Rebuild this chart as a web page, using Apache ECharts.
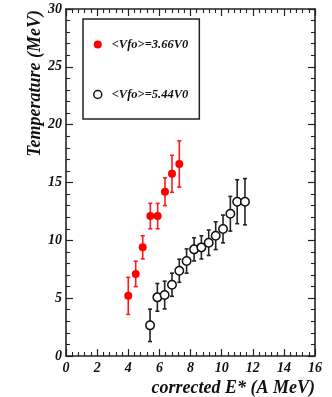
<!DOCTYPE html>
<html><head><meta charset="utf-8">
<script src="https://cdn.jsdelivr.net/npm/echarts@6/dist/echarts.min.js"></script>
<style>html,body{margin:0;padding:0;background:#fff}#c{width:332px;height:397px}</style>
</head><body><div id="c"></div>
<script>
var seriesNames = ['<Vfo>=3.66V0', '<Vfo>=5.44V0'];
var redX = [4.0, 4.48, 4.93, 5.42, 5.89, 6.36, 6.81, 7.28];
var redY = [5.2, 7.1, 9.4, 12.1, 12.1, 14.2, 15.75, 16.6];
var redErr = [1.6, 1.1, 1.0, 1.1, 1.1, 1.2, 1.6, 2.0];
var blackX = [5.40, 5.87, 6.34, 6.81, 7.28, 7.75, 8.23, 8.70, 9.17, 9.62, 10.09, 10.56, 11.0, 11.5];
var blackY = [2.65, 5.07, 5.27, 6.16, 7.37, 8.21, 9.22, 9.39, 9.79, 10.4, 10.98, 12.3, 13.34, 13.34];
var blackErr = [1.4, 1.2, 1.2, 1.0, 1.0, 1.05, 1.0, 1.0, 1.1, 1.2, 1.2, 1.5, 1.9, 2.0];
var xTicks = [0, 2, 4, 6, 8, 10, 12, 14, 16];
var yTicks = [0, 5, 10, 15, 20, 25, 30];

var FONT = 'Liberation Serif';
var AX = '#222';
function pts(xs, ys, es) { return xs.map(function (x, i) { return [x, ys[i], es[i]]; }); }
function errRender(color) {
  return function (params, api) {
    var x = api.value(0), y = api.value(1), e = api.value(2);
    var top = api.coord([x, y + e]), bot = api.coord([x, y - e]);
    var c = 2;
    var st = { stroke: color, lineWidth: 1.6 };
    return { type: 'group', children: [
      { type: 'line', shape: { x1: top[0], y1: top[1], x2: bot[0], y2: bot[1] }, style: st },
      { type: 'line', shape: { x1: top[0] - c, y1: top[1], x2: top[0] + c, y2: top[1] }, style: st },
      { type: 'line', shape: { x1: bot[0] - c, y1: bot[1], x2: bot[0] + c, y2: bot[1] }, style: st }
    ] };
  };
}
function xAxisCfg(show) {
  return {
    type: 'value', min: xTicks[0], max: xTicks[xTicks.length - 1], interval: 2,
    position: show ? 'bottom' : 'top',
    axisLine: { show: true, onZero: false, lineStyle: { color: AX, width: 1.6 } },
    axisTick: { show: true, inside: true, length: 7, lineStyle: { color: AX, width: 1.2 } },
    minorTick: { show: true, splitNumber: 5, length: 4, lineStyle: { color: AX, width: 1.1 } },
    splitLine: { show: false },
    axisLabel: { show: show, margin: 5, color: '#111', fontFamily: FONT, fontStyle: 'italic', fontWeight: 'bold', fontSize: 14 },
    name: show ? 'corrected E* (A MeV)' : '', nameLocation: 'end', nameGap: 0,
    nameTextStyle: { align: 'right', verticalAlign: 'top', padding: [23, 0, 0, 0], color: '#111', fontFamily: FONT, fontStyle: 'italic', fontWeight: 'bold', fontSize: 18 }
  };
}
function yAxisCfg(show) {
  return {
    type: 'value', min: yTicks[0], max: yTicks[yTicks.length - 1], interval: 5,
    position: show ? 'left' : 'right',
    axisLine: { show: true, onZero: false, lineStyle: { color: AX, width: 1.6 } },
    axisTick: { show: true, inside: true, length: 7, lineStyle: { color: AX, width: 1.2 } },
    minorTick: { show: true, splitNumber: 5, length: 4, lineStyle: { color: AX, width: 1.1 } },
    splitLine: { show: false },
    axisLabel: { show: show, margin: 4, color: '#111', fontFamily: FONT, fontStyle: 'italic', fontWeight: 'bold', fontSize: 14 },
    name: show ? 'Temperature (MeV)' : '', nameLocation: 'end', nameGap: -1, nameRotate: 90,
    nameTextStyle: { align: 'right', verticalAlign: 'bottom', padding: [0, 0, 22, 0], color: '#111', fontFamily: FONT, fontStyle: 'italic', fontWeight: 'bold', fontSize: 18 }
  };
}
var chart = echarts.init(document.getElementById('c'));
chart.setOption({
  animation: false,
  backgroundColor: '#fff',
  grid: { left: 66, right: 17, top: 9, bottom: 41 },
  xAxis: [xAxisCfg(true), xAxisCfg(false)],
  yAxis: [yAxisCfg(true), yAxisCfg(false)],
  legend: {
    left: 83, top: 19, orient: 'vertical',
    padding: [19, 11, 18, 10], itemGap: 37, itemWidth: 8, itemHeight: 8,
    borderColor: AX, borderWidth: 1.5,
    textStyle: { color: '#111', fontFamily: FONT, fontStyle: 'italic', fontWeight: 'bold', fontSize: 12.5, padding: [0, 0, 0, 5] },
    data: [
      { name: seriesNames[0], icon: 'circle', itemStyle: { color: '#ff0000', borderWidth: 0 } },
      { name: seriesNames[1], icon: 'circle', itemStyle: { color: '#fff', borderColor: '#111', borderWidth: 1.5 } }
    ]
  },
  series: [
    { type: 'custom', name: 'errR', data: pts(redX, redY, redErr), renderItem: errRender('#ff1a1a'), z: 1, silent: true },
    { type: 'custom', name: 'errB', data: pts(blackX, blackY, blackErr), renderItem: errRender('#222'), z: 1, silent: true },
    { type: 'scatter', name: seriesNames[0], data: pts(redX, redY, redErr), symbol: 'circle', symbolSize: 8,
      itemStyle: { color: '#ff0000', opacity: 1 }, z: 3 },
    { type: 'scatter', name: seriesNames[1], data: pts(blackX, blackY, blackErr), symbol: 'circle', symbolSize: 8.5,
      itemStyle: { color: '#fff', borderColor: '#111', borderWidth: 1.5, opacity: 1 }, z: 3 }
  ]
});
</script></body></html>
